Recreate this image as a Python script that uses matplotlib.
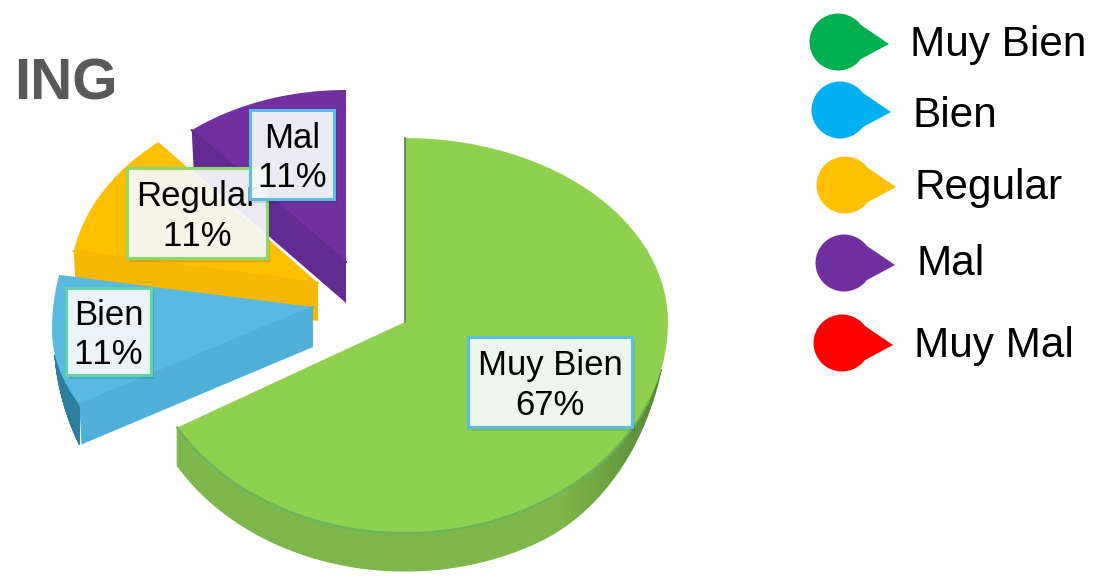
import numpy as np
import matplotlib
matplotlib.use("Agg")
import matplotlib.pyplot as plt
from matplotlib.patches import Circle, Polygon, Rectangle

plt.rcParams['font.family'] = ['Liberation Sans', 'DejaVu Sans']
plt.rcParams['text.kerning_factor'] = 6

# data
categories = ["Muy Bien", "Bien", "Regular", "Mal", "Muy Mal"]
counts = [6, 1, 1, 1, 0]
title = "ING"

# style / layout, all in reference pixels
top_colors = ["#8FD14F", "#5AB9E0", "#FFC000", "#7030A0", "#FF0000"]
edge_colors = ["#72B34C", "#4FAFD6", "#F7B900", "#632A92", "#CC0000"]
legend_colors = ["#00B050", "#00B0F0", "#FFC000", "#7030A0", "#FF0000"]
apex_x = [405, 313, 318, 346]
apex_y = [322, 307, 283, 262]
rim_y = [322, 330, 283, 262]
rim_shift = [0, 3.5, 0, 0]
radius_x = [263, 261, 248, 240]
radius_up = [184, 236, 184, 172]
radius_dn = [211, 167, 211, 211]
depth = [38, 40, 38, 41]
label_boxes = [(468, 337, 164, 90), (66, 288, 85, 87), (127, 168, 140, 90), (250, 110, 84, 89)]
label_edges = ["#5BBCE4", "#5FD3A8", "#8ED86B", "#5BBCE4"]
legend_cx = [838, 840, 845, 844, 842]
legend_cy = [42, 110, 185, 263, 343]
legend_tip_y = [44, 112, 187, 265, 345]
legend_text_x = [910, 913, 914, 917, 914]
legend_text_y = [45, 116, 188, 264, 346]


def rim(i, a0, a1, n=80):
    t = np.radians(np.linspace(a0, a1, n) + rim_shift[i])
    c = np.cos(t)
    x = apex_x[i] + radius_x[i] * np.sin(t)
    y = rim_y[i] - np.where(c > 0, radius_up[i] * c, radius_dn[i] * c)
    return x, y, t


def mix(c1, c2, w):
    c1 = np.array(matplotlib.colors.to_rgb(c1))
    c2 = np.array(matplotlib.colors.to_rgb(c2))
    return tuple(c1 * (1 - w) + c2 * w)


fig = plt.figure(figsize=(11.02, 5.78), dpi=100)
ax = fig.add_axes([0, 0, 1, 1])
ax.set_xlim(0, 1102)
ax.set_ylim(578, 0)
ax.axis("off")

shares = np.array(counts) / sum(counts)
ends = np.cumsum(shares) * 360
starts = ends - shares * 360

# back to front
for i in [3, 2, 1, 0]:
    a0, a1 = starts[i], ends[i]
    x, y, _ = rim(i, a0, a1)

    # flat side along the cut
    if i > 0:
        px, py = (x[0], y[0])
        ax.add_patch(Polygon([(px, py), (apex_x[i], apex_y[i]),
                              (apex_x[i], apex_y[i] + depth[i]), (px + 2, py + depth[i])],
                             fc=edge_colors[i], ec="none", zorder=i * -10 + 1))

    # curved outer side, fading out where the rim turns away
    if i == 0:
        sx, sy, st = rim(i, 103, 240)
        d = depth[i] * np.sin(np.pi / 2 * np.clip((np.degrees(st) - 103) / 47, 0, 1))
        shade = np.clip((np.degrees(st) - 103) / 40, 0, 1)
    elif i == 1:
        sx, sy, st = rim(i, 240, 258)
        d = depth[i] * np.clip((258 + rim_shift[i] - np.degrees(st)) / 18, 0, 1) ** 0.7
        shade = np.zeros_like(st)
    else:
        sx = None
    if sx is not None:
        for k in range(len(sx) - 1):
            col = mix("#4E7F35", "#7DB64A", shade[k]) if i == 0 else "#2E7F9E"
            ax.add_patch(Polygon([(sx[k], sy[k]), (sx[k + 1], sy[k + 1]),
                                  (sx[k + 1], sy[k + 1] + d[k + 1]), (sx[k], sy[k] + d[k])],
                                 fc=col, ec=col, lw=0.8, zorder=i * -10 + 1))

    # top face
    pts = np.column_stack([np.r_[x, apex_x[i]], np.r_[y, apex_y[i]]])
    ax.add_patch(Polygon(pts, fc=top_colors[i], ec="none", zorder=i * -10 + 2))

    # crease along the front edge of the top
    if i == 0:
        cx, cy, _ = rim(i, 112, 240)
        ax.plot(cx, cy, color="#6DB35A", lw=1.5, zorder=3)
        ax.plot([apex_x[0], apex_x[0]], [apex_y[0] - radius_up[0], apex_y[0]],
                color="#4F7F6A", lw=1.2, zorder=3)
    else:
        ax.plot([x[0], apex_x[i]], [y[0], apex_y[i]], color=edge_colors[i], lw=1.5,
                zorder=i * -10 + 3)

# labels
for i in [0, 1, 2, 3]:
    bx, by, bw, bh = label_boxes[i]
    ax.add_patch(Rectangle((bx + 3, by + 4), bw, bh, fc=(0, 0, 0, 0.10), ec="none", zorder=10 + i))
    ax.add_patch(Rectangle((bx, by), bw, bh, fc=(0.97, 0.98, 0.98, 0.93), ec=label_edges[i], lw=2.2, zorder=10 + i))
    ax.text(bx + bw / 2, by + bh / 2 + 3.5, f"{categories[i]}\n{shares[i] * 100:.0f}%", fontsize=25,
            ha="center", va="center", color="black", linespacing=1.26, zorder=10 + i)

ax.text(14, 85, title, fontsize=42, fontweight="bold", color="#595959", ha="left", va="center")

# legend teardrops
for i, name in enumerate(categories):
    r = 28.5
    cx, cy = legend_cx[i], legend_cy[i]
    ang = np.radians(37)
    ax.add_patch(Circle((cx, cy), r, fc=legend_colors[i], ec="none"))
    ax.add_patch(Polygon([(cx + r * np.cos(ang), cy - r * np.sin(ang)), (cx + 51, legend_tip_y[i]),
                          (cx + r * np.cos(ang), cy + r * np.sin(ang))],
                         fc=legend_colors[i], ec="none"))
    ax.text(legend_text_x[i], legend_text_y[i], name, fontsize=30.4, ha="left", va="center", color="black")

fig.savefig("out.png", dpi=100)
